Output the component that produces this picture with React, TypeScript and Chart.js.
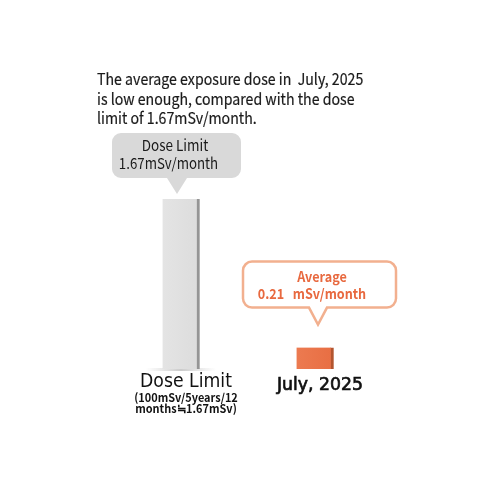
import { useEffect, useRef } from "react";
import { Chart, registerables } from "chart.js";

Chart.register(...registerables);

const categories = ["Dose Limit", "July, 2025"];
const doseValues = [1.67, 0.21];
const subLabel = ["(100mSv/5years/12", "months≒1.67mSv)"];
const headline = [
  "The average exposure dose in  July, 2025",
  "is low enough, compared with the dose",
  "limit of 1.67mSv/month.",
];
const limitBubble = ["Dose Limit", "1.67mSv/month"];
const averageBubble = ["Average", "0.21   mSv/month"];

const JP = '"Noto Sans CJK JP", "Noto Sans", sans-serif';
const WIDE = '"DejaVu Sans", sans-serif';

function bubblePath(
  ctx: CanvasRenderingContext2D,
  x: number,
  y: number,
  w: number,
  h: number,
  r: number,
  tipX: number,
  tipY: number,
  half: number
) {
  ctx.beginPath();
  ctx.moveTo(x + r, y);
  ctx.lineTo(x + w - r, y);
  ctx.arcTo(x + w, y, x + w, y + r, r);
  ctx.lineTo(x + w, y + h - r);
  ctx.arcTo(x + w, y + h, x + w - r, y + h, r);
  ctx.lineTo(tipX + half, y + h);
  ctx.lineTo(tipX, tipY);
  ctx.lineTo(tipX - half, y + h);
  ctx.lineTo(x + r, y + h);
  ctx.arcTo(x, y + h, x, y + h - r, r);
  ctx.lineTo(x, y + r);
  ctx.arcTo(x, y, x + r, y, r);
  ctx.closePath();
}

// draw text squeezed horizontally (reference font is narrower than what we have)
function squeezed(
  ctx: CanvasRenderingContext2D,
  text: string,
  x: number,
  y: number,
  sx: number,
  stroke = 0
) {
  ctx.save();
  ctx.translate(x, y);
  ctx.scale(sx, 1);
  ctx.fillText(text, 0, 0);
  if (stroke > 0) {
    ctx.strokeStyle = ctx.fillStyle as string;
    ctx.lineWidth = stroke;
    ctx.strokeText(text, 0, 0);
  }
  ctx.restore();
}

const annotations = {
  id: "annotations",
  beforeDatasetsDraw(chart: Chart) {
    const ctx = chart.ctx;
    const bar = chart.getDatasetMeta(0).data[0];
    const base = chart.scales.y.getPixelForValue(0);
    ctx.save();
    const sh = ctx.createLinearGradient(bar.x - 35, 0, bar.x + 35, 0);
    sh.addColorStop(0, "rgba(200,200,200,0)");
    sh.addColorStop(0.5, "rgba(190,190,190,0.8)");
    sh.addColorStop(1, "rgba(200,200,200,0)");
    ctx.fillStyle = sh;
    ctx.fillRect(bar.x - 35, base - 1, 70, 3);
    ctx.restore();
  },
  afterDraw(chart: Chart) {
    const ctx = chart.ctx;
    const bars = chart.getDatasetMeta(0).data;
    const b1 = bars[0];
    const b2 = bars[1];
    const base = chart.scales.y.getPixelForValue(0);
    ctx.save();

    // headline
    ctx.fillStyle = "#1a1a1a";
    ctx.font = `16px ${JP}`;
    ctx.textAlign = "left";
    ctx.textBaseline = "alphabetic";
    headline.forEach((line, i) => squeezed(ctx, line, 97, 85 + i * 19.5, 0.885, 0.2));

    // dose limit bubble
    bubblePath(ctx, b1.x - 69, b1.y - 66, 129, 45, 9, b1.x - 4, b1.y - 5, 10);
    ctx.fillStyle = "#d9d9d9";
    ctx.fill();
    ctx.fillStyle = "#1a1a1a";
    ctx.textAlign = "center";
    ctx.font = `15px ${JP}`;
    squeezed(ctx, limitBubble[0], b1.x - 6, b1.y - 48, 0.9);
    squeezed(ctx, limitBubble[1], b1.x - 12.5, b1.y - 30, 0.885);

    // average bubble
    bubblePath(ctx, b2.x - 72, b2.y - 86, 153, 46, 9, b2.x + 3, b2.y - 23, 9);
    ctx.fillStyle = "#ffffff";
    ctx.fill();
    ctx.strokeStyle = "#f2b08f";
    ctx.lineWidth = 2.5;
    ctx.stroke();
    ctx.fillStyle = "#e8693f";
    ctx.font = `bold 14px ${JP}`;
    squeezed(ctx, averageBubble[0], b2.x + 7, b2.y - 66, 0.9);
    squeezed(ctx, averageBubble[1], b2.x - 3, b2.y - 49, 0.9);

    // category labels
    ctx.fillStyle = "#111111";
    ctx.font = `19px ${WIDE}`;
    squeezed(ctx, categories[0], b1.x + 5, base + 18, 0.91);
    ctx.font = `18px ${WIDE}`;
    squeezed(ctx, categories[1], b2.x + 5, base + 21, 0.96, 0.7);
    ctx.font = `bold 11.5px ${JP}`;
    squeezed(ctx, subLabel[0], b1.x + 5, base + 33, 0.95);
    squeezed(ctx, subLabel[1], b1.x + 5, base + 43.5, 0.95);

    ctx.restore();
  },
};

export default function App() {
  const canvasRef = useRef<HTMLCanvasElement>(null);

  useEffect(() => {
    if (!canvasRef.current) return;
    const ctx = canvasRef.current.getContext("2d");
    if (!ctx) return;

    const chart = new Chart(ctx, {
      type: "bar",
      data: {
        labels: categories,
        datasets: [
          {
            data: doseValues,
            backgroundColor: (c: any) => {
              const area = c.chart.chartArea;
              const xs = c.chart.scales.x;
              if (!area || !xs) return c.dataIndex === 0 ? "#e0e0e0" : "#ea7448";
              const x = xs.getPixelForValue(c.dataIndex);
              if (!isFinite(x)) return c.dataIndex === 0 ? "#e0e0e0" : "#ea7448";
              const g = c.chart.ctx.createLinearGradient(x - 18, 0, x + 18, 0);
              if (c.dataIndex === 0) {
                g.addColorStop(0, "#e4e4e4");
                g.addColorStop(1, "#dcdcdc");
              } else {
                g.addColorStop(0, "#ec7a50");
                g.addColorStop(1, "#e86e43");
              }
              return g;
            },
            borderColor: ["#959595", "#b3552f"],
            borderWidth: { right: 3, top: 0, left: 0, bottom: 0 },
            borderSkipped: false,
            barThickness: 37,
          },
        ],
      },
      options: {
        responsive: true,
        maintainAspectRatio: false,
        animation: false,
        layout: { padding: { top: 199, bottom: 121, left: 114, right: 108 } },
        scales: {
          x: { display: false, grid: { display: false } },
          y: { display: false, min: 0, max: 1.67, grid: { display: false } },
        },
        plugins: {
          legend: { display: false },
          tooltip: { enabled: false },
        },
      },
      plugins: [annotations],
    });

    return () => {
      chart.destroy();
    };
  }, []);

  return (
    <div style={{ position: "absolute", left: 0, top: 0, width: 490, height: 490, background: "#ffffff" }}>
      <canvas ref={canvasRef} />
    </div>
  );
}
